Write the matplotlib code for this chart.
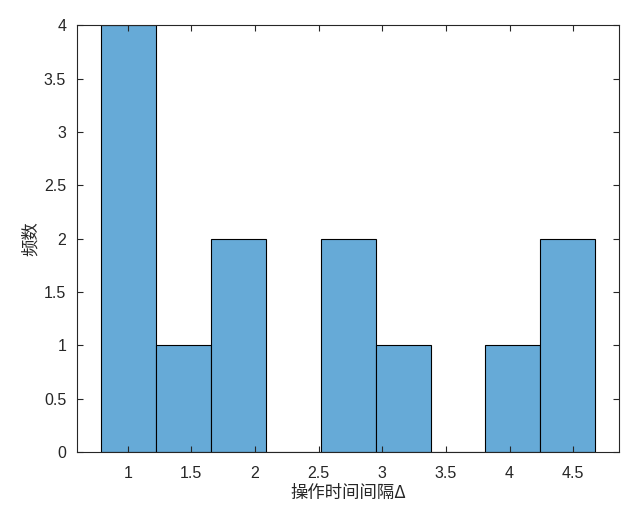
import matplotlib
matplotlib.use("Agg")
import matplotlib.pyplot as plt

edges = [0.793, 1.224, 1.655, 2.086, 2.517, 2.948, 3.379, 3.810, 4.241, 4.672]
counts = [4, 1, 2, 0, 2, 1, 0, 1, 2]
xticks = [1, 1.5, 2, 2.5, 3, 3.5, 4, 4.5]
xticklabels = ["1", "1.5", "2", "2.5", "3", "3.5", "4", "4.5"]
yticks = [0, 0.5, 1, 1.5, 2, 2.5, 3, 3.5, 4]
yticklabels = ["0", "0.5", "1", "1.5", "2", "2.5", "3", "3.5", "4"]
xlabel = "操作时间间隔Δ"
ylabel = "频数"

plt.rcParams['font.family'] = ['Liberation Sans', 'Noto Sans CJK SC', 'DejaVu Sans']
fig = plt.figure(figsize=(6.44, 5.24), dpi=100)
ax = fig.add_axes([77.3/644, 1-452/524, (619.3-77.3)/644, (452-25.3)/524])

ax.hist(edges[:-1], bins=edges, weights=counts, color='#66AAD7',
        edgecolor='black', linewidth=0.8)

ax.set_xlim(0.604, 4.862)
ax.set_ylim(0, 4)
ax.set_xticks(xticks)
ax.set_xticklabels(xticklabels)
ax.set_yticks(yticks)
ax.set_yticklabels(yticklabels)
tc = '#262626'
ax.tick_params(direction='in', top=True, right=True, length=4, width=0.8,
               colors=tc, labelsize=11.5, labelcolor=tc)
ax.tick_params(axis='x', pad=10)
ax.tick_params(axis='y', pad=8)
for s in ax.spines.values():
    s.set_color(tc)
    s.set_linewidth(0.8)

ax.set_xlabel(xlabel, family=['Noto Sans CJK SC', 'DejaVu Sans'], fontsize=12.5,
              color=tc, labelpad=2)
ax.set_ylabel(ylabel, family=['Noto Sans CJK SC', 'DejaVu Sans'], fontsize=12.5,
              color=tc, labelpad=3)

fig.savefig("out.png", dpi=100)
